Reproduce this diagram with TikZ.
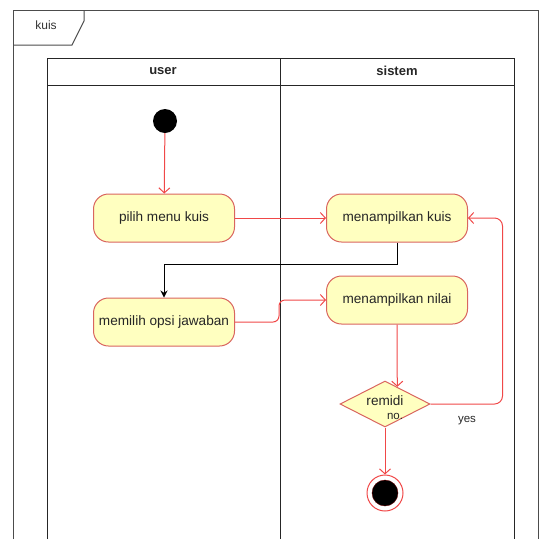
\documentclass[tikz,border=0pt]{standalone}
\usepackage{fontspec}
\setmainfont{Liberation Sans}
\usetikzlibrary{shapes,arrows.meta,positioning,calc}
\definecolor{actfill}{HTML}{FFFFC0}
\definecolor{actred}{HTML}{D9655F}
\definecolor{flowred}{HTML}{F04848}

\begin{document}
\begin{tikzpicture}[x=1pt,y=-1pt,
    act/.style={draw=actred, fill=actfill, line width=1pt, rounded corners=15pt,
        minimum width=141pt, minimum height=48pt, inner sep=1pt,
        font=\fontsize{13.6}{15}\selectfont, text=black!85},
    flow/.style={draw=flowred, line width=1pt, -{Straight Barb[length=5pt,width=11pt]}},
    lane/.style={draw=black!85, line width=1pt},
    lanehead/.style={font=\fontsize{13}{15}\selectfont\bfseries, text=black!85}]
    \useasboundingbox (0,0) rectangle (548,539);
    \draw[lane, black!70] (13,539) -- (13,10) -- (538,10) -- (538,539);
    \draw[lane, black!70] (13,45) -- (72,45) -- (84,21) -- (84,10);
    \node[font=\fontsize{12}{14}\selectfont, text=black!80] (frame) at (46,25) {kuis};
    \draw[lane] (47,539) -- (47,58) -- (514,58) -- (514,539);
    \draw[lane] (47,85) -- (514,85);
    \draw[lane] (280,58) -- (280,539);
    \node[lanehead] (user) at (163,71) {user};
    \node[lanehead] (sistem) at (397,71) {sistem};
    \node[circle, fill=black, minimum size=24pt, inner sep=0pt] (start) at (165,121) {};
    \node[act] (pilih) at (164,218) {pilih menu kuis};
    \node[act] (kuis) at (397,218) {menampilkan kuis};
    \node[act] (opsi) at (164,322) {memilih opsi jawaban};
    \node[act] (nilai) at (397,300) {menampilkan nilai};
    \node[diamond, draw=actred, fill=actfill, line width=1pt, minimum width=90pt,
        minimum height=46pt, inner sep=0pt] (remidi) at (385,404) {};
    \node[font=\fontsize{13.6}{15}\selectfont, text=black!85] (remiditxt) at (385,401) {remidi};
    \node[font=\fontsize{11.5}{13}\selectfont, text=black!85] (no) at (395,416) {no.};
    \node[font=\fontsize{11.5}{13}\selectfont, text=black!85] (yes) at (467,421) {yes};
    \node[circle, draw=flowred, fill=white, line width=1pt, minimum size=36pt, inner sep=0pt] (end) at (385,493) {};
    \node[circle, draw=black!60!red, fill=black, minimum size=26pt, inner sep=0pt] (endin) at (end.center) {};
    \draw[flow] (start) -- (pilih);
    \draw[flow] (pilih) -- (kuis);
    \draw[black, line width=1pt, -{Stealth[length=7pt,width=7pt]}] (kuis.south) -- ++(0,22) -| (opsi.north);
    \draw[flow, rounded corners=6pt] (opsi.east) -- ++(44,0) |- (nilai.west);
    \draw[flow] (nilai.south) -- ($(remidi.north)!0.27!(remidi.east)$);
    \draw[flow, rounded corners=8pt] (remidi.east) -- ++(72,0) |- (kuis.east);
    \draw[flow] (remidi.south) -- (end.north);
\end{tikzpicture}
\end{document}
